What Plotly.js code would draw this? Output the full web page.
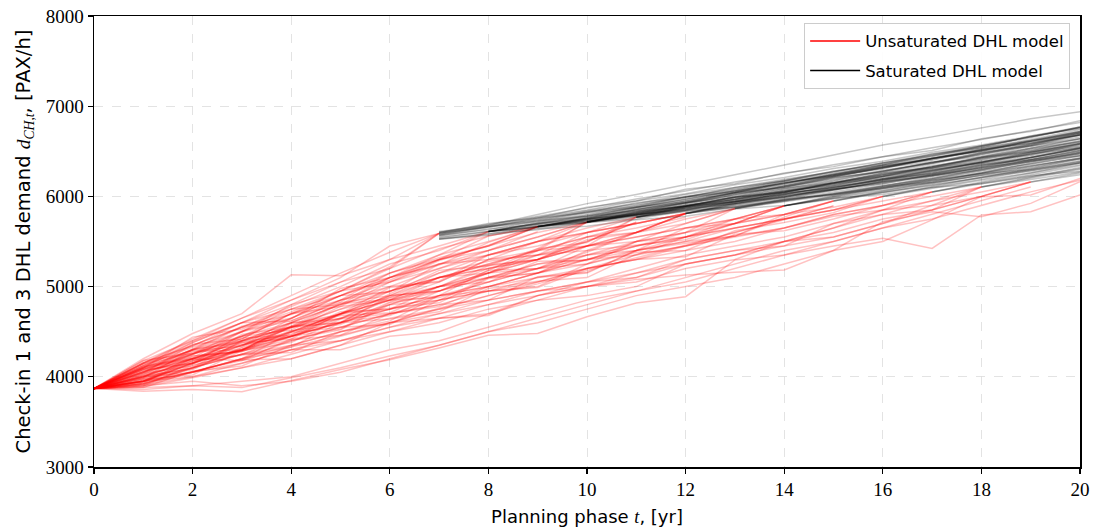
<!DOCTYPE html>
<html>
<head>
<meta charset="utf-8">
<script src="https://cdn.plot.ly/plotly-3.0.1.min.js"></script>
<style>
  html, body { margin: 0; padding: 0; background: #fff; }
  #chart { width: 1094px; height: 530px; }
</style>
</head>
<body>
<div id="chart"></div>
<script>
// Planning years
const years = [0,1,2,3,4,5,6,7,8,9,10,11,12,13,14,15,16,17,18,19,20];

// Unsaturated DHL model paths (values from t = 0; a path stops when it reaches saturation)
const redPaths = [
  [3870,4150,4420,4650,4900,5150,5380,5590],
  [3870,4200,4480,4700,5130,5120,5300,5590],
  [3870,4100,4380,4600,4850,5050,5300,5450,5610],
  [3870,4050,4300,4550,4780,5000,5250,5400,5610],
  [3870,4120,4330,4500,4800,5050,5200,5590],
  [3870,4080,4250,4500,4700,4950,5200,5420,5560,5665],
  [3870,4000,4250,4450,4700,4900,5150,5350,5500,5665],
  [3870,4150,4350,4550,4650,4900,5100,5300,5450,5600,5715],
  [3870,4050,4200,4400,4600,4850,5050,5250,5400,5550,5715],
  [3870,3980,4150,4350,4550,4750,4950,5150,5350,5500,5650,5770],
  [3870,4100,4300,4500,4750,4900,5100,5250,5350,5450,5600,5700,5810],
  [3870,4000,4200,4400,4550,4700,4900,5100,5250,5400,5550,5700,5810],
  [3870,3950,4150,4300,4500,4650,4850,5000,5200,5350,5450,5600,5750,5865],
  [3870,4050,4200,4350,4450,4650,4800,5000,5150,5300,5450,5550,5650,5750,5895],
  [3870,3980,4100,4250,4450,4600,4800,4950,5100,5250,5350,5500,5600,5750,5895],
  [3870,4000,4180,4300,4500,4700,4850,4950,5100,5200,5350,5450,5550,5700,5800,5950],
  [3870,3920,4050,4200,4400,4550,4700,4850,5000,5150,5250,5400,5500,5650,5750,5850,6000],
  [3870,3950,4100,4250,4350,4500,4650,4750,4900,5050,5200,5300,5450,5550,5650,5800,5900,6050],
  [3870,3840,3860,3835,3960,4080,4190,4320,4460,4480,4666,4818,4888,5295,5350,5450,5535,5424,5794,5830,6015],
  [3870,3950,4050,4200,4300,4450,4600,4700,4800,4950,5000,5080,5128,5160,5184,5400,5720,5830,5775,5923,6163],
  [3870,3880,3900,3880,3990,4100,4230,4350,4500,4600,4750,4900,5000,5100,5250,5400,5500,5740,5997,6015,6200],
  [3870,3860,3900,3950,4000,4150,4300,4400,4550,4700,4850,4950,5100,5250,5400,5500,5650,5800,5950,6105],
  [3870,3900,3950,3900,3950,4050,4200,4350,4500,4650,4800,4950,5050,5200,5350,5500,5650,5750,5900,6050,6180],
  [3870,3950,4000,4100,4200,4350,4500,4600,4750,4850,5000,5100,5250,5350,5500,5600,5750,5850,6000,6160],
  [3870,4000,4100,4250,4400,4550,4700,4800,4950,5050,5200,5350,5450,5600,5750,5850,6000],
  [3870,4050,4250,4400,4550,4650,4750,4900,5050,5200,5300,5450,5550,5650,5750,5895],
  [3870,4100,4300,4400,4600,4800,4950,5100,5200,5300,5450,5550,5650,5750,5800,5950],
  [3870,4150,4400,4600,4800,4950,5050,5200,5350,5500,5600,5700,5810],
  [3870,4080,4300,4450,4650,4850,4950,5100,5250,5400,5550,5650,5770],
  [3870,4020,4150,4300,4450,4600,4750,4900,5000,5150,5300,5400,5550,5650,5750,5850,5950,6050],
  [3870,3950,4050,4200,4350,4500,4600,4750,4850,4950,5050,5150,5300,5400,5500,5650,5800,5950,6105],
  [3870,3900,4050,4150,4300,4400,4550,4650,4800,4900,5000,5150,5250,5350,5450,5550,5700,5850,6000,6160],
  [3870,4100,4250,4450,4600,4800,5000,5200,5400,5550,5715],
  [3870,4120,4350,4550,4750,4950,5150,5300,5450,5665],
  [3870,3950,4150,4350,4500,4700,4850,5000,5150,5300,5450,5600,5700,5865],
  [3870,3920,4100,4300,4450,4600,4750,4850,4950,5100,5200,5300,5400,5500,5650,5800,5900,6000,6105],
  [3870,4180,4400,4650,4850,5100,5450,5590],
  [3870,3890,3990,4100,4250,4400,4550,4700,4850,4950,5050,5200,5350,5450,5550,5700,5850,5950,6050,6160],
  [3870,3930,4060,4180,4330,4460,4600,4760,4900,5030,5180,5320,5460,5600,5740,5895],
  [3870,4060,4190,4450,4520,4780,4850,5100,5240,5300,5520,5600,5810],
  [3870,3930,4210,4300,4560,4600,4900,4950,5180,5420,5490,5770],
  [3870,4180,4260,4510,4640,4980,5100,5350,5610],
  [3870,4010,4090,4330,4600,4640,4920,5180,5230,5420,5715],
  [3870,3990,4300,4380,4420,4700,4760,4820,5090,5150,5400,5460,5520,5700,5895],
  [3870,4110,4200,4290,4590,4690,4850,4880,5050,5280,5290,5500,5700,5865],
  [3870,3900,4130,4250,4270,4500,4620,4900,4950,5000,5250,5380,5400,5620,5710,5820,6000],
  [3870,4040,4360,4420,4700,4780,5050,5290,5460,5665],
  [3870,3970,4020,4290,4410,4460,4700,4800,4850,5110,5160,5400,5500,5560,5770,5950],
  [3870,4130,4380,4600,4620,4830,5100,5240,5490,5665],
  [3870,3950,4180,4240,4330,4600,4640,4720,4980,5060,5100,5360,5450,5560,5650,5780,5850,6050],
  [3870,4090,4230,4280,4500,4700,4990,5050,5300,5400,5715],
  [3870,3920,4100,4400,4450,4530,4820,4900,5180,5200,5380,5600,5810],
  [3870,4000,4050,4200,4490,4550,4580,4850,4950,4990,5200,5300,5330,5580,5620,5750,5900,6050],
  [3870,4150,4290,4340,4650,4900,4940,5250,5300,5500,5600,5770],
  [3870,3880,4060,4190,4200,4350,4600,4650,4700,4900,5050,5100,5300,5400,5450,5700,5800,5850,6105],
  [3870,4070,4150,4470,4550,4600,4880,5000,5230,5300,5500,5715],
  [3870,4020,4280,4300,4560,4820,4900,5150,5280,5350,5600,5700,5810],
  [3870,3960,4140,4380,4470,4720,4750,5000,5050,5200,5250,5500,5550,5750,5895],
  [3870,4100,4440,4530,4720,4950,5220,5590],
  [3870,3990,4200,4180,4420,4520,4800,4850,5100,5150,5350,5400,5650,5700,5895],
  [3870,4040,4120,4290,4380,4640,4700,4780,5000,5100,5150,5400,5480,5560,5800,5880,6000],
  [3870,4160,4340,4600,4750,4800,5100,5300,5400,5610],
  [3870,3940,4160,4290,4550,4680,4710,4950,5150,5200,5450,5500,5600,5865],
  [3870,4080,4150,4390,4560,4750,4880,5100,5150,5400,5450,5770],
  [3870,3910,4000,4150,4300,4300,4450,4500,4700,4850,4900,5000,5250,5350,5500,5650,5850,5900,6000,6160],
  [3870,4120,4210,4500,4620,4850,5000,5060,5350,5500,5715],
  [3870,4030,4260,4360,4440,4700,4900,4950,5150,5350,5400,5600,5810],
  [3870,3970,4080,4320,4510,4580,4830,5000,5100,5250,5300,5450,5600,5700,5800,5950],
  [3870,4060,4310,4560,4690,4900,5070,5300,5560,5665],
  [3870,3920,4060,4120,4350,4400,4500,4650,4680,4900,5000,5050,5200,5300,5500,5550,5700,5900,6105],
  [3870,4010,4170,4430,4460,4690,4950,5100,5200,5300,5550,5600,5810],
  [3870,4140,4260,4420,4700,4850,5150,5320,5450,5665],
  [3870,3950,4230,4280,4450,4610,4680,4900,5000,5150,5300,5350,5550,5700,5895],
  [3870,4090,4200,4350,4540,4810,4860,5050,5300,5350,5500,5715]
];

// Saturated DHL model paths: first year of each path, then its values from that year to t = 20
const blackStartYears = [
  7,7,7,7,7,7,7,7,7,7,7,7,
  8,8,8,8,8,8,
  9,9,9,9,9,9,9,
  10,10,10,10,10,10,10,
  11,11,11,11,11,
  12,12,12,12,12,12,
  13,13,13,13,
  14,14,14,14,14,14,
  15,15,15,
  16,16,16,
  17,17,17,
  18,18,18,
  19,19,
  7,7,7,7,8,8,9,9,10,10,11,12
];
const blackPaths = [
  [5610,5680,5800,5920,6020,6126,6240,6348,6460,6570,6660,6760,6860,6939],
  [5600,5700,5760,5880,5950,6080,6140,6260,6330,6440,6510,6640,6720,6840],
  [5590,5660,5760,5820,5930,5990,6100,6170,6280,6350,6470,6540,6670,6770],
  [5580,5660,5720,5820,5880,5990,6050,6160,6230,6340,6400,6520,6590,6710],
  [5570,5630,5730,5780,5880,5940,6040,6100,6210,6270,6380,6440,6560,6640],
  [5560,5640,5690,5780,5840,5930,5990,6090,6150,6260,6320,6430,6500,6610],
  [5550,5610,5700,5750,5840,5890,5990,6040,6140,6200,6300,6370,6470,6540],
  [5540,5610,5660,5750,5800,5890,5940,6040,6090,6190,6250,6350,6410,6510],
  [5530,5580,5670,5710,5800,5850,5940,5990,6080,6140,6230,6290,6390,6450],
  [5525,5590,5630,5710,5750,5840,5880,5970,6020,6110,6160,6250,6300,6390],
  [5525,5570,5640,5670,5740,5780,5860,5900,5980,6020,6100,6140,6230,6280],
  [5600,5670,5730,5830,5890,6000,6060,6150,6220,6320,6380,6490,6570,6700],
  [5610,5690,5760,5860,5930,6030,6100,6200,6280,6380,6460,6570,6680],
  [5610,5670,5750,5810,5900,5970,6060,6120,6220,6290,6390,6460,6580],
  [5610,5660,5730,5790,5860,5930,6010,6080,6160,6230,6320,6400,6490],
  [5610,5680,5740,5830,5890,5990,6050,6150,6220,6320,6380,6490,6560],
  [5610,5650,5710,5770,5830,5890,5960,6020,6090,6150,6230,6290,6370],
  [5610,5700,5780,5880,5960,6060,6150,6240,6330,6420,6520,6610,6720],
  [5665,5750,5830,5930,6010,6110,6190,6290,6370,6480,6560,6680],
  [5665,5730,5820,5890,5990,6060,6160,6240,6340,6420,6530,6610],
  [5665,5720,5800,5870,5950,6030,6110,6200,6280,6370,6450,6540],
  [5665,5760,5850,5950,6040,6150,6240,6350,6440,6550,6650,6770],
  [5665,5740,5810,5900,5970,6070,6150,6250,6320,6430,6510,6620],
  [5665,5730,5790,5880,5940,6030,6100,6190,6260,6360,6430,6530],
  [5665,5750,5850,5930,6040,6120,6230,6310,6420,6500,6610,6700],
  [5715,5810,5900,5990,6090,6180,6280,6370,6470,6560,6660],
  [5715,5790,5880,5960,6050,6130,6220,6310,6400,6500,6580],
  [5715,5790,5860,5940,6020,6100,6180,6260,6350,6430,6520],
  [5715,5820,5910,6020,6110,6220,6310,6420,6510,6620,6720],
  [5715,5780,5860,5920,6000,6070,6160,6230,6320,6390,6480],
  [5715,5800,5880,5970,6050,6150,6230,6330,6410,6520,6600],
  [5715,5800,5890,5960,6060,6140,6240,6310,6420,6490,6590],
  [5770,5870,5950,6050,6140,6240,6330,6440,6530,6640],
  [5770,5850,5940,6020,6110,6190,6290,6370,6470,6550],
  [5770,5850,5920,6010,6080,6170,6240,6340,6410,6500],
  [5770,5880,5970,6080,6170,6280,6370,6480,6580,6690],
  [5770,5840,5920,5990,6080,6150,6240,6310,6400,6470],
  [5810,5910,5990,6100,6180,6290,6380,6490,6580],
  [5810,5900,5980,6070,6160,6250,6340,6430,6530],
  [5810,5880,5960,6030,6120,6190,6280,6360,6450],
  [5810,5920,6020,6120,6220,6330,6430,6540,6640],
  [5810,5880,5950,6030,6100,6180,6260,6340,6420],
  [5810,5910,6000,6090,6190,6280,6380,6470,6570],
  [5865,5960,6050,6140,6240,6330,6430,6530],
  [5865,5950,6030,6120,6200,6300,6380,6480],
  [5865,5970,6070,6170,6270,6380,6480,6590],
  [5865,5940,6020,6090,6180,6250,6340,6420],
  [5895,6000,6090,6190,6290,6390,6490],
  [5895,5990,6080,6170,6260,6360,6450],
  [5895,5980,6060,6150,6230,6320,6410],
  [5895,6010,6110,6220,6320,6430,6540],
  [5895,5970,6050,6120,6210,6280,6370],
  [5895,6000,6100,6200,6300,6410,6510],
  [5950,6050,6140,6240,6330,6430],
  [5950,6040,6130,6210,6300,6390],
  [5950,6060,6160,6260,6370,6470],
  [6000,6100,6190,6290,6380],
  [6000,6090,6180,6260,6350],
  [6000,6110,6210,6310,6420],
  [6050,6150,6240,6340],
  [6050,6140,6220,6310],
  [6050,6160,6260,6370],
  [6105,6200,6300],
  [6105,6190,6270],
  [6105,6210,6320],
  [6160,6260],
  [6160,6240],
  [5600,5690,5780,5870,5970,6060,6160,6250,6350,6440,6540,6630,6730,6820],
  [5590,5680,5770,5850,5950,6030,6130,6210,6310,6390,6490,6570,6670,6750],
  [5580,5670,5750,5840,5920,6020,6100,6190,6270,6370,6450,6540,6620,6720],
  [5570,5660,5740,5830,5910,6000,6080,6170,6250,6340,6420,6510,6590,6680],
  [5610,5710,5800,5900,5990,6090,6180,6280,6370,6470,6560,6660,6760],
  [5610,5700,5790,5880,5970,6060,6140,6240,6320,6420,6500,6600,6680],
  [5665,5770,5870,5970,6070,6170,6270,6370,6460,6560,6660,6760],
  [5665,5760,5860,5950,6050,6140,6240,6330,6430,6520,6620,6710],
  [5715,5830,5930,6040,6140,6250,6350,6450,6560,6660,6770],
  [5715,5820,5920,6020,6120,6220,6320,6410,6510,6610,6700],
  [5770,5890,6000,6110,6210,6320,6420,6530,6630,6740],
  [5810,5930,6040,6150,6260,6360,6470,6580,6680]
];

const seriesNames = ['Unsaturated DHL model', 'Saturated DHL model'];
const yTickVals = [3000,4000,5000,6000,7000,8000];
const xTickVals = [0,2,4,6,8,10,12,14,16,18,20];

const traces = [];
redPaths.forEach(p => {
  traces.push({
    x: years.slice(0, p.length), y: p, mode: 'lines', type: 'scatter',
    line: {color: 'rgba(255,0,0,0.24)', width: 1.5},
    showlegend: false, hoverinfo: 'skip'
  });
});
blackPaths.forEach((p, i) => {
  const s = years.indexOf(blackStartYears[i]);
  traces.push({
    x: years.slice(s, s + p.length), y: p, mode: 'lines', type: 'scatter',
    line: {color: 'rgba(0,0,0,0.22)', width: 1.5},
    showlegend: false, hoverinfo: 'skip'
  });
});
// legend entries
traces.push({x: [null], y: [null], mode: 'lines', type: 'scatter', name: seriesNames[0], legendgroup: 'u', line: {color: '#ff0000', width: 1.5}});
traces.push({x: [null], y: [null], mode: 'lines', type: 'scatter', name: seriesNames[1], legendgroup: 's', line: {color: '#000000', width: 1.5}});

const serif = '"Liberation Serif", "DejaVu Serif", serif';
const sans = '"DejaVu Sans", "Noto Sans", sans-serif';
const mi = '<i style="font-family:Liberation Serif">';

const layout = {
  width: 1094, height: 530,
  margin: {l: 94, r: 14, t: 16, b: 63},
  paper_bgcolor: '#fff', plot_bgcolor: '#fff',
  showlegend: true,
  legend: {
    x: 0.99, y: 0.985, xanchor: 'right', yanchor: 'top',
    bgcolor: 'rgba(255,255,255,0.9)', bordercolor: '#cccccc', borderwidth: 1,
    font: {family: sans, size: 16.5, color: '#000'},
    tracegroupgap: 5, itemwidth: 50
  },
  xaxis: {
    range: [0, 20], tickvals: xTickVals, ticks: 'outside', ticklen: 5, tickwidth: 1.2,
    tickcolor: '#000', showline: true, linecolor: '#000', linewidth: 1.5, mirror: true,
    showgrid: true, gridcolor: '#dcdcdc', griddash: 'dash', gridwidth: 0.8,
    zeroline: false,
    tickfont: {family: serif, size: 19, color: '#000'},
    title: {text: 'Planning phase ' + mi + 't</i>, [yr]', font: {family: sans, size: 18, color: '#000'}, standoff: 11}
  },
  yaxis: {
    range: [3000, 8000], tickvals: yTickVals, ticks: 'outside', ticklen: 5, tickwidth: 1.2,
    tickcolor: '#000', showline: true, linecolor: '#000', linewidth: 1.5, mirror: true,
    showgrid: true, gridcolor: '#dcdcdc', griddash: 'dash', gridwidth: 0.8,
    zeroline: false,
    tickfont: {family: serif, size: 19, color: '#000'},
    title: {text: 'Check-in 1 and 3 DHL demand ' + mi + 'd</i><sub>' + mi + 'CH,t</i></sub>, [PAX/h]', font: {family: sans, size: 19.5, color: '#000'}, standoff: 10}
  }
};

Plotly.newPlot('chart', traces, layout, {displayModeBar: false, staticPlot: true});
</script>
</body>
</html>
